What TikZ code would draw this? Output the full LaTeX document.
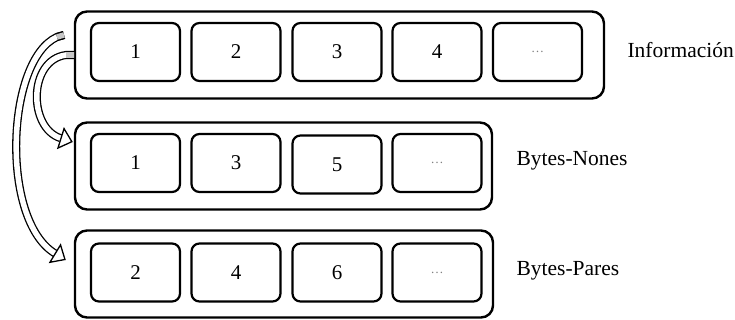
\documentclass[tikz,border=0pt]{standalone}
\usepackage{fontspec}
\setmainfont{Liberation Serif}
\usetikzlibrary{arrows.meta}
\tikzset{
  rowbox/.style={draw, line width=2.4pt, rounded corners=12pt, minimum height=87pt},
  bytebox/.style={draw, line width=2.2pt, rounded corners=8pt, minimum width=89pt, minimum height=58pt, font=\fontsize{21}{23}\selectfont},
  rowlabel/.style={anchor=west, font=\fontsize{21.5}{24}\selectfont},
  bigarrow/.style={double=white, double distance=5.5pt, line width=1.3pt, -{Triangle[length=13pt,width=23pt,fill=white]}},
  dots/.style={text=gray, font=\fontsize{13}{15}\selectfont}
}
\begin{document}
\begin{tikzpicture}[x=1pt,y=-1pt]
\useasboundingbox (0,0) rectangle (735,320);
% filas
\node[rowbox, minimum width=529pt] (info) at (339.5,55) {};
\node[rowbox, minimum width=417pt] (nones) at (283.5,166) {};
\node[rowbox, minimum width=418pt] (pares) at (284,274) {};
% informacion
\node[bytebox] (i1) at (135.5,52) {1};
\node[bytebox] (i2) at (236,52) {2};
\node[bytebox] (i3) at (337,52) {3};
\node[bytebox] (i4) at (437,52) {4};
\node[bytebox, dots] (i5) at (537.5,52) {\ldots};
% nones
\node[bytebox] (n1) at (135.5,163) {1};
\node[bytebox] (n2) at (236,163) {3};
\node[bytebox] (n3) at (337,164.5) {5};
\node[bytebox, dots] (n4) at (437,163) {\ldots};
% pares
\node[bytebox] (p1) at (135.5,272.5) {2};
\node[bytebox] (p2) at (236,272.5) {4};
\node[bytebox] (p3) at (337,272.5) {6};
\node[bytebox, dots] (p4) at (437,272.5) {\ldots};
% etiquetas
\node[rowlabel] (linfo) at (624,50) {Información};
\node[rowlabel] (lnones) at (513,161) {Bytes-Nones};
\node[rowlabel] (lpares) at (513,271) {Bytes-Pares};
% flechas
\coordinate (s1) at (74,55);
\coordinate (s2) at (64,35);
\draw[bigarrow] (s1) -- (66,55) .. controls (28,60) and (28,128) .. ([yshift=24pt,xshift=-1pt]nones.west);
\draw[bigarrow] (s2) -- (57,37) .. controls (6,60) and (0,220) .. ([yshift=14pt,xshift=-8pt]pares.west);
\draw[bigarrow, double=gray!45, -] (s1) -- (66,55);
\draw[bigarrow, double=gray!45, -] (s2) -- (57,37);
\end{tikzpicture}
\end{document}
